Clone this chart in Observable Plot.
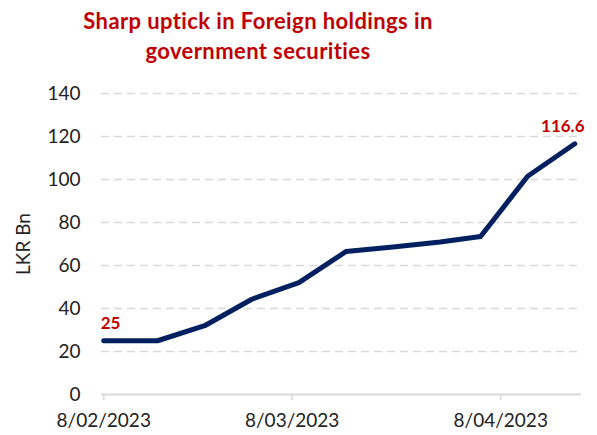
<!DOCTYPE html>
<html>
<head>
<meta charset="utf-8">
<script src="https://cdn.jsdelivr.net/npm/d3@7"></script>
<script src="https://cdn.jsdelivr.net/npm/@observablehq/plot@0.6"></script>
<style>
  html, body { margin: 0; padding: 0; background: #fff; }
  #title { width: 516px; padding-top: 6px; height: 60px; text-align: center;
    font-family: Lato, "Open Sans", sans-serif; font-weight: 700; font-size: 22px;
    letter-spacing: 0.4px; line-height: 30px; color: #C00000; }
  #chart svg { display: block; }
</style>
</head>
<body>
<div id="title">Sharp uptick in Foreign holdings in<br>government securities</div>
<div id="chart"></div>
<script>
const dates = ["2023-02-08","2023-02-16","2023-02-23","2023-03-02","2023-03-09","2023-03-16","2023-03-23","2023-03-30","2023-04-05","2023-04-12","2023-04-19"];
const values = [25, 25, 32, 44.3, 52, 66.5, 68.6, 70.9, 73.5, 101.5, 116.6];
const tickDates = ["2023-02-08","2023-03-08","2023-04-08"];
const yTicks = [0, 20, 40, 60, 80, 100, 120, 140];
const yLabel = "LKR Bn";

const data = dates.map((d, i) => ({date: new Date(d + "T00:00:00Z"), value: values[i]}));
const ends = [data[0], data[data.length - 1]];

const chart = Plot.plot({
  width: 597,
  height: 369,
  marginLeft: 101,
  marginRight: 16,
  marginTop: 27,
  marginBottom: 41,
  style: {fontFamily: "Lato, sans-serif", fontSize: "19px", color: "#222", background: "#fff"},
  x: {type: "utc", domain: [new Date("2023-02-07T16:00:00Z"), new Date("2023-04-20T00:00:00Z")]},
  y: {domain: [0, 140]},
  marks: [
    Plot.gridY(yTicks.filter(t => t > 0), {stroke: "#d9d9d9", strokeOpacity: 1, strokeWidth: 1.5, strokeDasharray: "8,5"}),
    Plot.ruleY([0], {stroke: "#d9d9d9", strokeWidth: 2}),
    Plot.axisY({ticks: yTicks, tickSize: 0, tickPadding: 21, fontSize: 19, fill: "#222",
      label: yLabel, labelAnchor: "center", labelOffset: 85, labelArrow: "none"}),
    Plot.axisX({ticks: tickDates.map(d => new Date(d + "T00:00:00Z")), tickFormat: d3.utcFormat("%-d/%m/%Y"),
      tickSize: 6, tickPadding: 13, stroke: "#d9d9d9", strokeWidth: 1.5, fill: "#222", fontSize: 19, label: null}),
    Plot.lineY(data, {x: "date", y: "value", stroke: "#002060", strokeWidth: 5, strokeLinecap: "round", strokeLinejoin: "round"}),
    Plot.text([ends[0]], {x: "date", y: "value", text: d => String(d.value), textAnchor: "start", dx: -3, dy: -17,
      fill: "#C00000", fontWeight: "bold", fontSize: 17}),
    Plot.text([ends[1]], {x: "date", y: "value", text: d => String(d.value), textAnchor: "middle", dx: -12, dy: -17,
      fill: "#C00000", fontWeight: "bold", fontSize: 17})
  ]
});
document.getElementById("chart").appendChild(chart);
</script>
</body>
</html>
